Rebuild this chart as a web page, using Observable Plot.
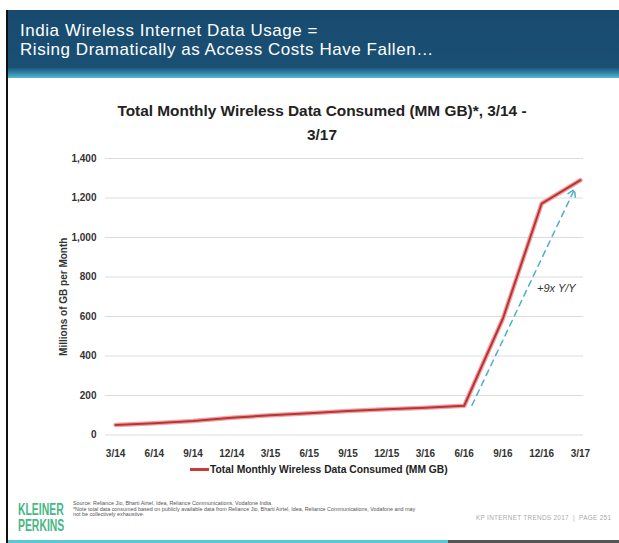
<!DOCTYPE html>
<html>
<head>
<meta charset="utf-8">
<script src="https://cdn.jsdelivr.net/npm/d3@7"></script>
<script src="https://cdn.jsdelivr.net/npm/@observablehq/plot@0.6"></script>
<style>
  html, body { margin: 0; padding: 0; background: #fff; }
  #page { position: relative; width: 619px; height: 543px; overflow: hidden; background: #fff; font-family: "Liberation Sans", Arial, sans-serif; }
  #border { position: absolute; left: 6px; top: 10px; width: 2px; height: 533px; background: #111; }
  #header { position: absolute; left: 8px; top: 10px; width: 611px; height: 68px;
    background: linear-gradient(to bottom, #174a6e 0%, #1a5074 84%, #2f81a5 92%, #56b9d2 100%); }
  #header div { position: absolute; left: 12px; color: #fff; font-family: "Liberation Sans", sans-serif; font-size: 17px; line-height: 19px; height: 19px; letter-spacing: 0.55px; white-space: nowrap; }
  #title { position: absolute; left: 0; width: 644px; text-align: center; top: 99px; font-size: 15.4px; font-weight: bold; color: #222; line-height: 24px; }
  #chart { position: absolute; left: 0; top: 145px; }
  #legend { position: absolute; left: 190px; top: 464px; font-size: 10.3px; font-weight: bold; color: #222; white-space: nowrap; }
  #legend span.sw { display: inline-block; width: 19px; height: 3px; background: #c93c3c; vertical-align: middle; margin-right: 1px; position: relative; top: -1px; }
  .kp { position: absolute; left: 18px; color: #47b785; font-family: "Liberation Sans", sans-serif; font-weight: bold; font-size: 16px; line-height: 16px; height: 16px; transform: scaleX(0.65); transform-origin: left top; white-space: nowrap; }
  #src { position: absolute; left: 73px; top: 501px; font-size: 5.4px; line-height: 5.5px; color: #555; white-space: nowrap; }
  #kpt { position: absolute; left: 476px; top: 514px; font-size: 6.4px; color: #aaa; letter-spacing: 0.3px; white-space: nowrap; }
  #stripe1 { position: absolute; left: 8px; top: 540px; width: 440px; height: 3px; background: #5bc6d6; }
  #stripe2 { position: absolute; left: 448px; top: 540px; width: 171px; height: 3px; background: #555; }
</style>
</head>
<body>
<div id="page">
  <div id="header">
    <div style="top:11px">India Wireless Internet Data Usage =</div>
    <div style="top:30px">Rising Dramatically as Access Costs Have Fallen…</div>
  </div>
  <div id="border"></div>
  <div id="title">Total Monthly Wireless Data Consumed (MM GB)*, 3/14 -<br>3/17</div>
  <div id="chart"></div>
  <div id="legend"><span class="sw"></span>Total Monthly Wireless Data Consumed (MM GB)</div>
  <div class="kp" style="top:502px">KLEINER</div>
  <div class="kp" style="top:518px">PERKINS</div>
  <div id="src">Source: Reliance Jio, Bharti Airtel, Idea, Reliance Communications, Vodafone India.<br>*Note total data consumed based on publicly available data from Reliance Jio, Bharti Airtel, Idea, Reliance Communications, Vodafone and may<br>not be collectively exhaustive.</div>
  <div id="kpt">KP INTERNET TRENDS 2017 &nbsp;|&nbsp; PAGE 251</div>
  <div id="stripe1"></div>
  <div id="stripe2"></div>
</div>
<script>
const periods = ["3/14","6/14","9/14","12/14","3/15","6/15","9/15","12/15","3/16","6/16","9/16","12/16","3/17"];
const usage = [51, 60, 71, 87, 100, 110, 121, 131, 138, 148, 590, 1172, 1290];
const yTicks = [0, 200, 400, 600, 800, 1000, 1200, 1400];
const arrowFrom = [9.2, 150];
const arrowTo = [11.85, 1245];
const noteText = "+9x Y/Y";
const noteAt = [11.38, 742];

const data = periods.map((p, i) => ({i, p, v: usage[i]}));

const chart = Plot.plot({
  width: 619,
  height: 320,
  marginLeft: 105,
  marginRight: 36,
  marginTop: 13,
  marginBottom: 30.5,
  style: {fontFamily: "Liberation Sans, Arial, sans-serif", fontSize: "10px", fontWeight: "bold", color: "#333", background: "transparent"},
  x: {type: "linear", domain: [-0.26, 12.08]},
  y: {domain: [0, 1400]},
  marks: [
    Plot.ruleY(yTicks, {stroke: "#dcdcdc", strokeWidth: 1}),
    Plot.axisX({ticks: d3.range(periods.length), tickFormat: i => periods[i], tickSize: 0, tickPadding: 15, label: null}),
    Plot.axisY({ticks: yTicks, tickFormat: d3.format(","), tickSize: 0, tickPadding: 9, label: "Millions of GB per Month", labelAnchor: "center", labelArrow: "none", labelOffset: 46}),
    Plot.line(data, {x: "i", y: "v", stroke: "#f0a3a3", strokeWidth: 4.5}),
    Plot.line(data, {x: "i", y: "v", stroke: "#b93434", strokeWidth: 2}),
    Plot.arrow([{x1: arrowFrom[0], y1: arrowFrom[1], x2: arrowTo[0], y2: arrowTo[1]}], {x1: "x1", y1: "y1", x2: "x2", y2: "y2", stroke: "#4bb0cc", strokeWidth: 1.5, strokeDasharray: "6,5", headLength: 8}),
    Plot.text([noteText], {x: noteAt[0], y: noteAt[1], text: d => d, fontStyle: "italic", fontWeight: "normal", fontSize: 11, fill: "#333"})
  ]
});
document.getElementById("chart").appendChild(chart);
</script>
</body>
</html>
